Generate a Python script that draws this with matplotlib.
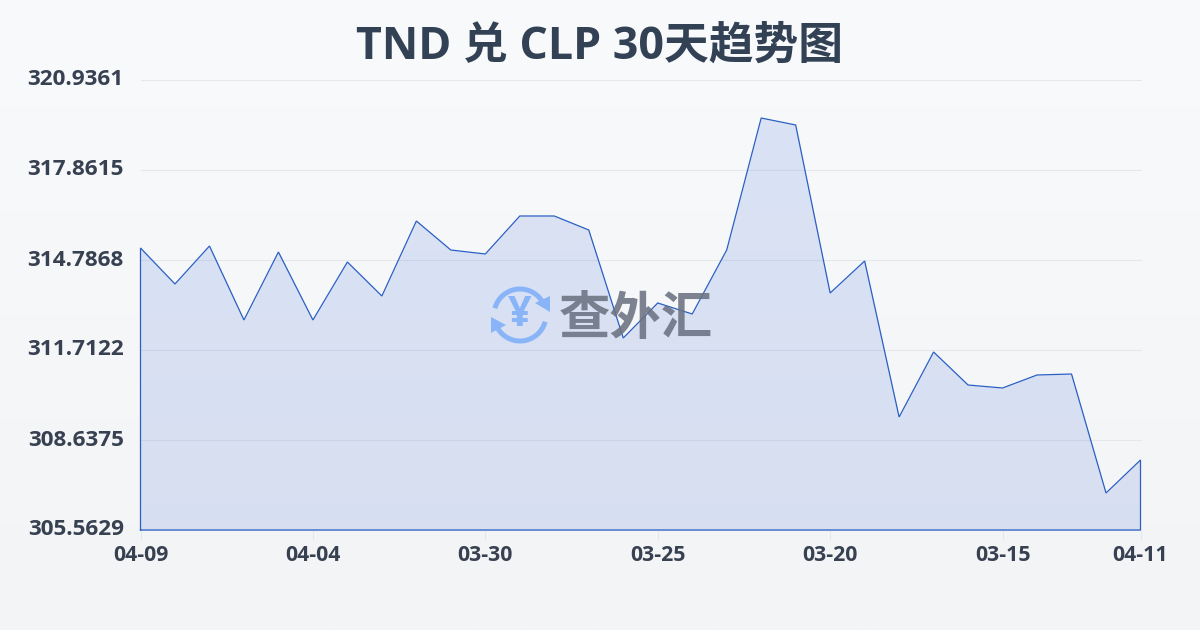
import numpy as np
import matplotlib
matplotlib.use("Agg")
import matplotlib.pyplot as plt
from matplotlib.patches import Arc, Polygon

# pair data, newest label first as on the chart
values = [315.197, 313.967, 315.265, 312.737, 315.060, 312.737, 314.718, 313.557, 316.119, 315.128,
          314.992, 316.290, 316.290, 315.812, 312.122, 313.318, 312.942, 315.128, 319.638, 319.399,
          313.659, 314.753, 309.423, 311.644, 310.516, 310.414, 310.858, 310.892, 306.827, 307.954]
x_tick_pos = [0, 5, 10, 15, 20, 25, 29]
x_tick_labels = ["04-09", "04-04", "03-30", "03-25", "03-20", "03-15", "04-11"]
y_ticks = [305.5629, 308.6375, 311.7122, 314.7868, 317.8615, 320.9361]
y_tick_labels = ["305.5629", "308.6375", "311.7122", "314.7868", "317.8615", "320.9361"]
title = "TND 兑 CLP 30天趋势图"

plt.rcParams["font.family"] = ["Open Sans", "Noto Sans CJK SC", "DejaVu Sans"]

W, H = 1200, 630
fig = plt.figure(figsize=(W / 100, H / 100), dpi=100)

# page background, light vertical gradient
bg = fig.add_axes([0, 0, 1, 1], zorder=0)
grad = np.linspace(0, 1, 256).reshape(-1, 1, 1)
grad = np.array([248, 250, 252])[None, None, :] * (1 - grad) + np.array([243, 244, 246])[None, None, :] * grad
bg.imshow(grad / 255, aspect="auto", extent=[0, 1, 0, 1])
bg.axis("off")

ax = fig.add_axes([140.5 / W, 1 - 530 / H, 1000 / W, 450 / H], zorder=1)
ax.patch.set_alpha(0)
x = np.arange(len(values))
ax.set_xlim(0, len(values) - 1)
ax.set_ylim(y_ticks[0], y_ticks[-1])

ax.grid(axis="y", color="#e5e7eb", lw=0.8, zorder=1, clip_on=False)
ax.set_axisbelow(True)
ax.fill_between(x, values, y_ticks[0], color="#2a5fd0", alpha=0.14, lw=0, zorder=2)
ax.plot(np.r_[x[0], x, x[-1], x[0]], np.r_[y_ticks[0], values, y_ticks[0], y_ticks[0]],
        color="#2b5fc4", lw=0.9, solid_joinstyle="miter", clip_on=False, zorder=5)

for s in ax.spines.values():
    s.set_visible(False)
ax.set_xticks(x_tick_pos)
ax.set_xticklabels(x_tick_labels, fontsize=15.3, fontweight="bold", color="#374151")
ax.set_yticks(y_ticks)
ax.set_yticklabels(y_tick_labels, fontsize=16.2, fontweight="bold", color="#374151", va="center")
ax.tick_params(axis="x", length=7, width=0.8, color="#e5e7eb", pad=3.5)
ax.tick_params(axis="y", length=0, pad=12)

fig.text(600 / W, 1 - 47 / H, title, ha="center", va="center", fontsize=32.2,
         fontweight="bold", color="#334155")

# watermark, pixel coordinates
wm = fig.add_axes([0, 0, 1, 1], zorder=3)
wm.set_xlim(0, W)
wm.set_ylim(H, 0)
wm.axis("off")
wm.patch.set_alpha(0)
cx, cy, r = 520, 315, 26
logo = "#8ab4f8"
wm.add_patch(Arc((cx, cy), 2 * r, 2 * r, theta1=195, theta2=335, color=logo, lw=3.6))
wm.add_patch(Arc((cx, cy), 2 * r, 2 * r, theta1=15, theta2=155, color=logo, lw=3.6))
wm.add_patch(Polygon([[550, 296], [550, 312], [535, 303]], color=logo, lw=0))
wm.add_patch(Polygon([[491, 317], [491, 333], [506, 325]], color=logo, lw=0))
wm.text(cx, cy, "¥", ha="center", va="center", fontsize=30, fontweight="bold", color=logo)
wm.text(636, 321, "查外汇", ha="center", va="center", fontsize=37, fontweight="bold",
        color="#6b7280", alpha=0.88)

fig.savefig("out.png", dpi=100)
